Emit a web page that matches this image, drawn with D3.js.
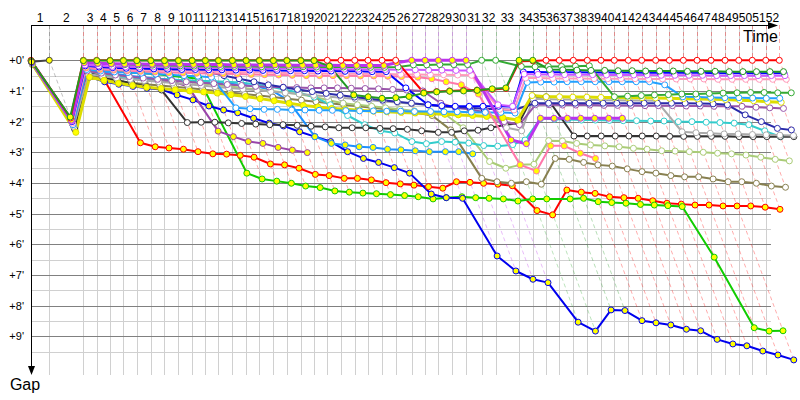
<!DOCTYPE html>
<html><head><meta charset="utf-8">
<script src="https://cdn.jsdelivr.net/npm/d3@7"></script>
<style>body{margin:0;background:#fff}svg{display:block}text{font-family:"Liberation Sans",Arial,sans-serif;fill:#000}</style>
</head><body><svg id="c" width="800" height="400"></svg>
<script>
// Reference (leader) race time in minutes at the end of each lap (index = lap, 0 = start)
const lapTimes = [0,1.62,4.63,5.81,6.99,8.17,9.35,10.59,11.80,13.04,14.25,15.42,16.58,17.81,19.03,20.20,21.44,22.63,23.87,25.04,26.22,27.43,28.65,29.82,31.06,32.27,33.69,34.87,36.04,37.28,38.50,39.88,41.12,43.19,44.40,45.58,46.75,47.99,49.23,50.44,51.62,52.86,54.04,55.28,56.49,57.73,58.94,60.18,61.42,62.63,63.83,65.02,66.22];
const lapLabels = d3.range(1, 53).map(String);
const gapTicks = [0,1,2,3,4,5,6,7,8,9];
const gapTickLabels = gapTicks.map(g => "+" + g + "'");

// Gap (minutes) to the reference, one value per lap
const gapK0 = [0.05,0.00];
const gapR1 = [0.00,1.88,0,0,0,0,0,0,0,0, 0,0,0,0,0,0,0,0,0,0, 0,0,0,0,0,0,1.05,1.02,1.00,0.98, 0.97,0.95,0.92,0.03,0.02,0,0,0,0,0, 0,0,0,0,0,0,0,0,0,0, 0,0,0];
const gapG1 = [0.02,1.85,0.01,0.01,0.01,0.01,0.01,0.01,0.01,0.01, 0.01,0.01,0.01,0.01,0.01,0.01,0.01,0.01,0.01,0.01, 0.19,1.13,1.19,1.24,1.22,1.18,1.07,1.03,1.01,1.00, 0.98,0.93,0.90,0,0,0.30,0.31,0.32,0.33,0.33, 0.34,0.34,0.35,0.35,0.35,0.36,0.36,0.36,0.37,0.37, 0.37,0.37,0.37];
const gapV2 = [0.03,1.95,0.08,0.10,0.11,0.12,0.12,0.13,0.13,0.13, 0.14,0.14,0.14,0.15,0.15,0.15,0.15,0.16,0.16,0.16, 0.16,0.17,0.17,0.17,0.17,0.08,0,0,0,0, 0,2.60,2.72,1.89,1.89,1.89,1.89,1.89,1.89,1.89];
const gapG3 = [0.04,1.92,0.05,0.10,0.12,0.14,0.15,0.16,0.17,0.18, 0.19,0.19,0.20,0.20,0.20,0.21,0.21,0.21,0.21,0.22, 0.22,0.22,0.22,0.23,0.23,0.22,0.15,0.15,0.14,0.14, 0.14,0,0,0.20,0.21,0.20,0.20,0.19,0.18,1.19, 1.17,1.15,1.13,1.12,1.10,1.10,1.08,1.07,1.06,1.05, 1.05,1.06,1.06];
const gapV1 = [0.06,1.98,0.15,0.18,0.20,0.21,0.22,0.22,0.23,0.23, 0.24,0.24,0.25,0.25,0.26,0.26,0.27,0.27,0.28,0.28, 0.28,0.29,0.29,0.30,0.30,0.31,0.31,0.32,0.32,0.33, 0.33,1.45,1.50,0.45,0.46,0.46,0.47,0.47,0.47,0.48, 0.48,0.48,0.48,0.49,0.49,0.49,0.49,0.50,0.50,0.50, 0.50,0.50,0.50];
const gapB1 = [0.07,2.00,0.18,0.22,0.24,0.26,0.27,0.28,0.29,0.30, 0.30,0.31,0.31,0.32,0.32,0.33,0.33,0.34,0.34,0.35, 0.35,0.36,0.36,0.37,0.37,0.90,1.45,1.48,1.50,1.50, 1.50,1.50,1.51,0.38,0.38,0.39,0.39,0.39,0.40,0.40, 0.40,0.40,0.41,0.41,0.41,0.41,0.41,0.42,0.42,0.42, 0.42,0.42,0.42];
const gapP1 = [0.09,2.05,0.20,0.25,0.28,0.30,0.31,0.32,0.33,0.34, 0.35,0.36,0.37,0.38,0.39,0.40,0.41,0.42,0.42,0.43, 0.43,0.44,0.44,0.45,0.45,0.46,0.46,0.47,0.47,0.48, 0.49,1.60,1.62,0.58,0.58,0.59,0.59,0.59,0.60,0.60, 0.60,0.60,0.61,0.61,0.61,0.61,0.61,0.62,0.62,0.62, 0.62,0.62,0.62];
const gapP2 = [0.08,2.02,0.25,0.30,0.32,0.34,0.36,0.38,0.40,0.41, 0.42,0.43,0.44,0.45,0.46,0.47,0.48,0.49,0.50,0.50, 0.50,0.50,0.51,0.51,0.52,0.53,0.55,0.60,0.70,0.80, 1.10,3.41,3.61,2.79,2.79,3.03,3.20];
const gapLB1 = [0.10,2.10,0.30,0.35,0.38,0.40,0.42,0.45,0.47,0.50, 0.52,0.55,1.55,1.58,1.60,1.60,1.62,1.62,1.63,1.63, 1.64,1.65,1.65,1.66,1.66,1.67,1.67,1.68,1.68,1.69, 1.70,1.70,1.72,0.72,0.71,0.71,0.70,0.70,0.70,0.70, 0.70,0.70,0.70,0.80,1.19,1.20,1.21,1.22,1.22,1.23, 1.24,1.24];
const gapLB2 = [0.11,2.12,0.30,0.38,0.45,0.50,0.55,0.60,0.63,0.66, 0.70,0.73,0.76,0.80,0.85,0.95,1.30,2.49,2.71,2.76, 2.82,2.84,2.90,2.92,2.95,2.98,2.98,2.98,3.05];
const gapC1 = [0.12,2.20,0.45,0.50,0.55,0.58,0.60,0.62,0.64,0.65, 0.67,0.68,0.70,0.72,0.78,0.85,0.95,1.05,1.20,1.45, 1.80,2.10,2.30,2.37,2.65,2.72,2.65,2.67,2.70,2.78, 2.80,2.75,2.60,1.90,1.92,1.93,1.95,1.95,1.96,1.97, 1.97,1.98,1.98,2.00,2.00,2.02,2.03,2.05,2.10,2.30, 2.49];
const gapY1 = [0.13,2.35,0.55,0.65,0.75,0.82,0.88,0.92,0.96,1.00, 1.03,1.07,1.12,1.18,1.25,1.32,1.40,1.47,1.52,1.57, 1.60,1.63,1.66,1.68,1.70,1.72,1.74,1.76,1.78,1.80, 1.83,1.87,1.95,1.15,1.19,1.19,1.20,1.20,1.21,1.21, 1.22,1.22,1.23,1.24,1.25,1.26,1.27,1.28,1.30,1.32, 1.35,1.37];
const gapPU1 = [0.10,2.08,0.35,0.42,0.48,0.53,0.58,0.62,0.66,0.70, 0.73,0.76,0.79,0.82,0.85,0.87,0.88,0.89,0.90,0.90, 0.90,0.91,0.92,0.93,0.95,0.97,1.00,1.40,1.55,1.60, 1.70,2.00,2.10,1.45,1.45,1.46,1.46,1.46,1.47,1.47, 1.47,1.48,1.48,1.48,1.49,1.49,1.50,1.50,1.50,1.53, 1.55,1.57];
const gapNV = [0.05,1.98,0.20,0.24,0.26,0.27,0.28,0.29,0.30,0.30, 0.31,0.40,0.50,0.60,0.70,0.80,0.88,0.95,1.02,1.08, 1.14,1.20,1.25,1.30,1.35,1.40,1.45,1.50,1.52,1.55, 1.58,1.60,1.62,1.40,1.40,1.40,1.40,1.40,1.40,1.40, 1.40,1.40,1.40,1.40,1.40,1.41,1.42,1.45,1.78,2.00, 2.22,2.27];
const gapGR = [0.09,2.15,0.45,0.52,0.58,0.62,0.66,0.70,0.74,0.78, 0.82,0.86,0.90,0.94,0.98,1.02,1.06,1.10,1.14,1.18, 1.22,1.26,1.30,1.34,1.38,1.42,1.46,1.50,1.55,1.60, 1.70,2.20,2.30,1.25,1.27,1.28,1.28,1.29,1.30,1.30, 1.31,1.31,1.32,2.33,2.36,2.38,2.40,2.40,2.42,2.43, 2.44,2.45];
const gapK1 = [0.14,2.25,0.40,0.55,0.65,0.75,0.85,0.97,2.03,2.02, 2.02,2.04,2.06,2.08,2.10,2.10,2.12,2.15,2.17,2.20, 2.20,2.20,2.22,2.23,2.25,2.30,2.35,2.35,2.30,2.28, 2.20,2.10,2.05,1.19,1.19,2.47,2.47,2.47,2.47,2.47, 2.47,2.47,2.48,2.48,2.48,2.48,2.48,2.49,2.49,2.49, 2.49,2.49];
const gapO1 = [0.11,2.15,0.50,0.60,0.68,0.73,0.78,0.82,0.86,0.90, 0.95,1.00,1.05,1.10,1.15,1.20,1.25,1.30,1.35,1.40, 1.45,1.50,1.55,1.60,1.65,1.70,1.80,2.27,3.85,3.96, 4.01,3.96,4.04,3.20,3.23,3.33,3.41,3.45,3.54,3.63, 3.68,3.76,3.80,3.80,3.87,3.96,3.96,4.01,4.10,4.14];
const gapO2 = [0.12,2.18,0.35,0.45,0.50,0.55,0.60,0.63,0.66,0.70, 0.75,0.80,0.85,0.90,0.95,1.00,1.05,1.10,1.20,1.30, 1.40,1.45,1.50,1.55,1.60,1.65,1.70,1.75,2.20,3.30, 3.52,3.41,3.39,2.62,2.63,2.71,2.76,2.79,2.82,2.87, 2.90,2.95,2.96,2.98,3.00,3.03,3.05,3.09,3.16,3.23, 3.28];
const gapR2 = [0.05,2.10,0.45,0.58,2.69,2.82,2.86,2.90,2.98,3.05, 3.06,3.10,3.16,3.38,3.41,3.52,3.72,3.76,3.85,3.85, 3.90,3.99,4.03,4.07,4.12,4.17,3.96,3.98,4.01,4.04, 4.09,4.90,5.04,4.23,4.30,4.34,4.45,4.48,4.50,4.58, 4.66,4.69,4.72,4.72,4.75,4.75,4.75,4.79,4.86];
const gapG2 = [0.05,2.05,0.25,0.30,0.35,0.40,0.42,0.45,0.50,0.55, 0.60,3.68,3.87,3.94,4.01,4.10,4.15,4.26,4.30,4.33, 4.35,4.38,4.41,4.45,4.52,4.48,4.45,4.48,4.50,4.52, 4.59,4.52,4.52,4.52,4.50,4.61,4.64,4.66,4.70,4.72, 4.74,4.77,6.42,8.72,8.83,8.82];
const gapB2 = [0.06,2.00,0.55,0.70,0.78,0.85,0.91,0.95,1.13,1.29, 1.49,1.62,1.71,1.89,2.05,2.14,2.33,2.49,2.65,2.98, 3.20,3.33,3.50,3.68,4.36,4.48,4.50,6.38,6.87,7.14, 7.25,8.54,8.83,8.14,8.16,8.49,8.56,8.63,8.77,8.82, 9.10,9.25,9.31,9.48,9.61,9.77];
const gapPU2 = [0.08,2.12,0.35,0.45,0.50,0.55,0.60,0.65,0.70,0.85, 2.31,2.49,2.65,2.71,2.84,2.93,3.01];

// Styles (drawing order: first = back)
const seriesStyle = [
  {data: gapR2,  color: "#ff0000", width: 2, yellowUntil: 99},
  {data: gapG2,  color: "#11cc00", width: 2, yellowUntil: 99},
  {data: gapB2,  color: "#0000ee", width: 2, yellowUntil: 99},
  {data: gapPU2, color: "#9944aa", width: 2, yellowUntil: 99},
  {data: gapLB2, color: "#1e90ff", width: 2, yellowUntil: 99},
  {data: gapO1,  color: "#888050", width: 2, yellowUntil: -1},
  {data: gapO2,  color: "#aacc77", width: 2, yellowUntil: -1},
  {data: gapC1,  color: "#33cccc", width: 2, yellowUntil: -1},
  {data: gapK1,  color: "#333333", width: 2, yellowUntil: -1},
  {data: gapGR,  color: "#aaaaaa", width: 2, yellowUntil: -1},
  {data: gapPU1, color: "#9955aa", width: 2, yellowUntil: -1},
  {data: gapNV,  color: "#2a2aaa", width: 2, yellowUntil: 10},
  {data: gapY1,  color: "#dddd00", width: 3, yellowUntil: 32},
  {data: gapLB1, color: "#22a0ff", width: 2, yellowUntil: -1},
  {data: gapP2,  color: "#ff77aa", width: 2, yellowUntil: 99},
  {data: gapP1,  color: "#ff99bb", width: 2, yellowUntil: -1},
  {data: gapB1,  color: "#0000ff", width: 2, yellowUntil: -1},
  {data: gapV1,  color: "#cc55ff", width: 2, yellowUntil: -1},
  {data: gapG3,  color: "#33aa33", width: 2, yellowUntil: -1},
  {data: gapV2,  color: "#bb33ee", width: 3, yellowUntil: 99},
  {data: gapR1,  color: "#ff0000", width: 2, yellowUntil: -1},
  {data: gapG1,  color: "#229922", width: 2, yellowUntil: 34},
  {data: gapK0,  color: "#444444", width: 2, yellowUntil: 99}
];

const svg = d3.select("#c");
const x = d3.scaleLinear().domain([0, lapTimes[lapTimes.length - 1]]).range([31, 779.3]);
const y = d3.scaleLinear().domain([0, 9]).range([60.3, 336.3]);
const px = v => Math.round(v) + 0.5;
const plotRight = 771, gridBottom = 375, axisTop = 25;

// grid
const grid = svg.append("g");
grid.selectAll("line.hmin").data(d3.range(0.5, 10, 1)).join("line")
  .attr("x1", 31).attr("x2", plotRight).attr("y1", d => px(y(d))).attr("y2", d => px(y(d)))
  .attr("stroke", "#d0d0d0").attr("stroke-width", 1);
grid.selectAll("line.v").data(lapTimes.slice(1, 52)).join("line")
  .attr("x1", d => px(x(d))).attr("x2", d => px(x(d))).attr("y1", axisTop).attr("y2", gridBottom)
  .attr("stroke", "#d0d0d0").attr("stroke-width", 1);
grid.selectAll("line.hmaj").data(gapTicks).join("line")
  .attr("x1", 31).attr("x2", plotRight).attr("y1", d => px(y(d))).attr("y2", d => px(y(d)))
  .attr("stroke", "#808080").attr("stroke-width", 1);

// per-lap iso-time dashed lines, coloured by the lap leader
const lapInfo = [];
for (let k = 1; k < lapTimes.length; k++) {
  let leader = null, minG = Infinity, maxG = -Infinity;
  seriesStyle.forEach(s => {
    const g = s.data[k];
    if (g == null) return;
    if (g < minG) { minG = g; leader = s; }
    if (g > maxG) maxG = g;
  });
  if (leader) lapInfo.push({k, color: leader.color, maxG});
}
svg.append("g").selectAll("path").data(lapInfo).join("path")
  .attr("d", d => `M${px(x(lapTimes[d.k]))},${axisTop}L${px(x(lapTimes[d.k]))},${y(0)}L${x(lapTimes[d.k] + d.maxG)},${y(d.maxG)}`)
  .attr("fill", "none").attr("stroke", d => d.color).attr("stroke-opacity", 0.33)
  .attr("stroke-width", 1).attr("stroke-dasharray", "4,3");

// series lines
const line = d3.line()
  .defined(d => d.g != null)
  .x(d => x(lapTimes[d.i] + d.g)).y(d => y(d.g));
const pts = s => s.data.map((g, i) => ({g, i}));
svg.append("g").selectAll("path").data(seriesStyle).join("path")
  .attr("d", s => line(pts(s)))
  .attr("fill", "none").attr("stroke", s => s.color).attr("stroke-width", s => s.width)
  .attr("stroke-linejoin", "round");

// markers
const mk = svg.append("g");
seriesStyle.forEach(s => {
  mk.selectAll(null).data(pts(s).filter(d => d.g != null)).join("circle")
    .attr("cx", d => x(lapTimes[d.i] + d.g)).attr("cy", d => y(d.g)).attr("r", 3)
    .attr("fill", d => d.i <= s.yellowUntil ? "#ffff00" : "#ffffff")
    .attr("stroke", s.color).attr("stroke-width", 1);
});

// axes
const ax = svg.append("g");
ax.append("line").attr("x1", 31).attr("x2", 770).attr("y1", axisTop + 0.5).attr("y2", axisTop + 0.5).attr("stroke", "#000");
ax.append("path").attr("d", "M778,25.5L768,22L768,29Z").attr("fill", "#000");
ax.append("line").attr("x1", 31.5).attr("x2", 31.5).attr("y1", axisTop).attr("y2", 367).attr("stroke", "#000");
ax.append("path").attr("d", "M31.5,375L28,366L35,366Z").attr("fill", "#000");

ax.selectAll("text.lap").data(lapLabels).join("text")
  .attr("x", (d, i) => (x(lapTimes[i]) + x(lapTimes[i + 1])) / 2).attr("y", 22)
  .attr("text-anchor", "middle").attr("font-size", 12).text(d => d);
ax.selectAll("text.gap").data(gapTicks).join("text")
  .attr("x", 24).attr("y", d => y(d) + 4).attr("text-anchor", "end").attr("font-size", 11)
  .text((d, i) => gapTickLabels[i]);
ax.append("text").attr("x", 743).attr("y", 42).attr("font-size", 16).text("Time");
ax.append("text").attr("x", 25).attr("y", 390).attr("text-anchor", "middle").attr("font-size", 16).text("Gap");
</script></body></html>
